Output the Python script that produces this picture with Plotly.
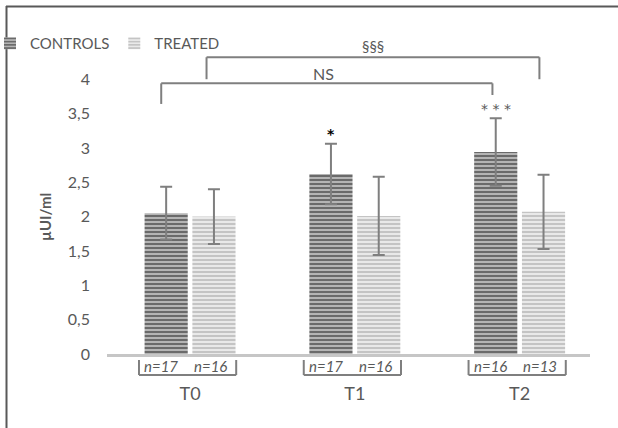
import plotly.graph_objects as go

# ---- data ----
categories = ["T0", "T1", "T2"]
controls = [2.05, 2.62, 2.94]
controls_err = [0.385, 0.44, 0.49]
treated = [2.00, 2.01, 2.07]
treated_err = [0.40, 0.57, 0.54]
n_controls = ["n=17", "n=17", "n=16"]
n_treated = ["n=16", "n=16", "n=13"]
y_ticks = [0, 0.5, 1, 1.5, 2, 2.5, 3, 3.5, 4]
y_tick_text = ["0", "0,5", "1", "1,5", "2", "2,5", "3", "3,5", "4"]

W, H = 618, 428
ML, MR, MT, MB = 107, 28, 38, 74
PW, PH = W - ML - MR, H - MT - MB
FONT = "Lato"
GREY = "#595959"
LINE = "#7f7f7f"

def px_x(px):
    return (px - ML) / PW

def px_y(py):
    return (H - MB - py) / PH

fig = go.Figure()
fig.add_trace(go.Bar(
    name="CONTROLS", x=categories, y=controls,
    marker=dict(color="#b4b4b4", line=dict(width=0),
                pattern=dict(shape="-", fgcolor="#6a6a6a", bgcolor="#b4b4b4",
                             size=4, solidity=0.5, fillmode="replace")),
    error_y=dict(type="data", array=controls_err, color=LINE, thickness=2, width=6),
))
fig.add_trace(go.Bar(
    name="TREATED", x=categories, y=treated,
    marker=dict(color="#e6e6e6", line=dict(width=0),
                pattern=dict(shape="-", fgcolor="#c4c4c4", bgcolor="#e9e9e9",
                             size=4, solidity=0.5, fillmode="replace")),
    error_y=dict(type="data", array=treated_err, color=LINE, thickness=2, width=6),
))

BARGAP, GROUPGAP = 0.42, 0.097
slot = (1 - BARGAP) / 2
off_c, off_t = -slot / 2, slot / 2

shapes = []
annotations = []

def line(x0, y0, x1, y1, xref="x", yref="y", color=LINE, width=2):
    shapes.append(dict(type="line", x0=x0, y0=y0, x1=x1, y1=y1, xref=xref, yref=yref,
                       line=dict(color=color, width=width)))

# top significance brackets
xl, xr = 0 + off_c - 0.03, 2 + off_c - 0.02
line(xl, 3.64, xl, 3.94); line(xl, 3.94, xr, 3.94); line(xr, 3.94, xr, 3.77)
annotations.append(dict(x=(xl + xr) / 2 - 0.02, y=4.09, xref="x", yref="y", text="NS",
                        showarrow=False, font=dict(family=FONT, size=16, color=GREY)))
xl2, xr2 = 0 + off_t - 0.045, 2 + off_t - 0.025
line(xl2, 4.0, xl2, 4.32); line(xl2, 4.32, xr2, 4.32); line(xr2, 4.32, xr2, 4.0)
annotations.append(dict(x=(xl2 + xr2) / 2, y=4.49, xref="x", yref="y", text="§§§",
                        showarrow=False, font=dict(family=FONT, size=15, color=GREY)))

# stars above bars
STAR_FONT = "DejaVu Sans"
annotations.append(dict(x=1 + off_c, y=controls[1] + controls_err[1], xref="x", yref="y",
                        text="<b>*</b>", showarrow=False, yanchor="middle", yshift=10,
                        font=dict(family=STAR_FONT, size=14, color="#000000")))
annotations.append(dict(x=2 + off_c, y=controls[2] + controls_err[2], xref="x", yref="y",
                        text="* * *", showarrow=False, yanchor="middle", yshift=9,
                        font=dict(family=STAR_FONT, size=14, color=GREY)))

# bottom n brackets and labels
for i in range(3):
    bl, br = i - 0.31, i + 0.28
    yt, yb = px_y(360), px_y(375)
    line(bl, yt, bl, yb, yref="paper"); line(bl, yb, br, yb, yref="paper")
    line(br, yb, br, yt, yref="paper")
    annotations.append(dict(x=i + off_c - 0.03, y=px_y(366), xref="x", yref="paper",
                            xanchor="center", yanchor="middle",
                            text="<i>" + n_controls[i] + "</i>", showarrow=False,
                            font=dict(family=FONT, size=15, color=GREY)))
    annotations.append(dict(x=i + off_t - 0.02, y=px_y(366), xref="x", yref="paper",
                            xanchor="center", yanchor="middle",
                            text="<i>" + n_treated[i] + "</i>", showarrow=False,
                            font=dict(family=FONT, size=15, color=GREY)))

# y-axis title
annotations.append(dict(x=px_x(45), y=px_y(217), xref="paper", yref="paper",
                        xanchor="center", yanchor="middle",
                        text="<b>µUI/ml</b>", textangle=-90, showarrow=False,
                        font=dict(family=FONT, size=15, color=GREY)))

# outer frame (top and left)
line(px_x(6), px_y(6.5), px_x(W), px_y(6.5), xref="paper", yref="paper", color=GREY, width=2)
line(px_x(6.5), px_y(6), px_x(6.5), px_y(H), xref="paper", yref="paper", color=GREY, width=2)

fig.update_layout(
    width=W, height=H,
    margin=dict(l=ML, r=MR, t=MT, b=MB, autoexpand=False),
    paper_bgcolor="white", plot_bgcolor="white",
    barmode="group", bargap=BARGAP, bargroupgap=GROUPGAP,
    font=dict(family=FONT, color=GREY),
    shapes=shapes, annotations=annotations,
    showlegend=True,
    legend=dict(orientation="h", x=px_x(-10), y=px_y(27), xanchor="left", yanchor="top",
                font=dict(family=FONT, size=15, color=GREY), itemwidth=30,
                bgcolor="rgba(0,0,0,0)", traceorder="normal"),
    xaxis=dict(range=[-0.504, 2.427], showline=True, linecolor="#c6c6c6", linewidth=3,
               showgrid=False, zeroline=False, ticks="", automargin=False,
               tickfont=dict(family=FONT, size=18, color=GREY), ticklabelstandoff=21),
    yaxis=dict(range=[0, 4.6], tickvals=y_ticks, ticktext=y_tick_text, showgrid=False,
               zeroline=False, showline=False, ticks="", automargin=False,
               tickfont=dict(family=FONT, size=16, color=GREY), ticklabelstandoff=16),
)

fig.write_html("out.html", config={"displayModeBar": False},
               post_script="document.body.style.margin='0';document.body.style.padding='0';")
